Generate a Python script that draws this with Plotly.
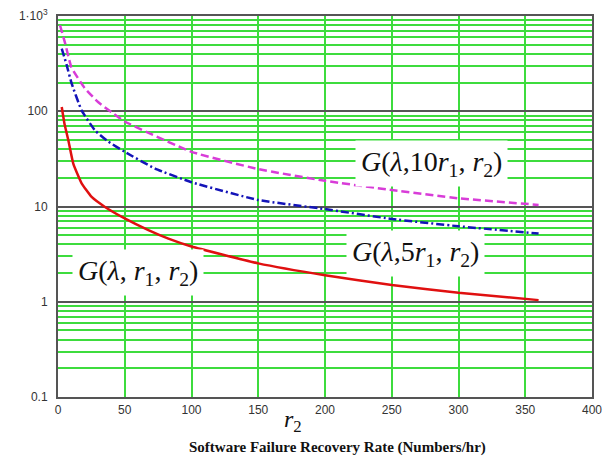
import plotly.graph_objects as go

# ---- data ----
red_r2 = [2.8, 5, 7.7, 11.5, 17.7, 25.2, 35.2, 50, 67.7, 82.7, 100, 150, 200, 250, 300, 360]
red_G = [111, 72, 50, 28, 17.5, 12.6, 9.9, 7.5, 5.65, 4.6, 3.8, 2.53, 1.9, 1.5, 1.24, 1.04]

blue_r2 = [2.8, 6.5, 10.2, 17.7, 27.7, 37.7, 50, 72.7, 100, 150, 200, 250, 300, 360]
blue_G = [455, 305, 196, 102, 63, 48, 37.5, 25, 18, 11.7, 9.4, 7.4, 6.2, 5.2]

mag_r2 = [1.5, 5.3, 10, 20, 30, 40, 50, 100, 150, 200, 250, 300, 360]
mag_G = [800, 520, 290, 175, 125, 98, 78, 37.5, 24.7, 18.6, 14.9, 12.2, 10.4]

x_ticks = [0, 50, 100, 150, 200, 250, 300, 350, 400]
y_ticks = [0.1, 1, 10, 100, 1000]
y_ticktext = ["0.1", "1", "10", "100", "1·10<sup>3</sup>"]
y_minor = [k * 10 ** e for e in (-1, 0, 1, 2) for k in range(2, 10)]

GREEN = "#3ddc3d"
DARK = "#555555"
SERIF = "Liberation Serif, Times New Roman, serif"
SANS = "Liberation Sans, Arial, sans-serif"

fig = go.Figure()
fig.add_trace(go.Scatter(x=mag_r2, y=mag_G, mode="lines",
                         line=dict(color="#d83cd8", width=2.5, dash="8px,4px", shape="spline", smoothing=0.4)))
fig.add_trace(go.Scatter(x=blue_r2, y=blue_G, mode="lines",
                         line=dict(color="#1414b8", width=2.5, dash="8px,3px,2px,3px", shape="spline", smoothing=0.4)))
fig.add_trace(go.Scatter(x=red_r2, y=red_G, mode="lines",
                         line=dict(color="#e01010", width=2.5, shape="spline", smoothing=0.4)))

fig.update_layout(
    width=604, height=468,
    margin=dict(l=58, r=12, t=16, b=71),
    paper_bgcolor="white", plot_bgcolor="white",
    showlegend=False,
    font=dict(family=SANS, size=12, color="#333"),
    xaxis=dict(range=[0, 400], tickvals=x_ticks, showgrid=True, gridcolor=GREEN, gridwidth=1.5,
               showline=True, linecolor=DARK, linewidth=2, mirror=True, ticks="", zeroline=False,
               automargin=False, ticklabelstandoff=1, ticklabeloverflow="allow",
               tickfont=dict(family=SANS, size=12, color="#333")),
    yaxis=dict(type="log", range=[-1, 3], tickvals=y_ticks, ticktext=y_ticktext,
               showgrid=True, gridcolor=DARK, gridwidth=2,
               minor=dict(tickvals=y_minor, showgrid=True, gridcolor=GREEN, gridwidth=1.5, ticks=""),
               showline=True, linecolor=DARK, linewidth=2, mirror=True, ticks="",
               automargin=False, ticklabelstandoff=6, ticklabeloverflow="allow",
               tickfont=dict(family=SANS, size=12, color="#333")),
)

lab_font = dict(family=SERIF, size=28, color="#111")
fig.add_annotation(x=280, y=1.455, xref="x", yref="y", showarrow=False, bgcolor="white", borderpad=5,
                   text="<i>G</i>(<i>λ</i>,10<i>r</i><sub>1</sub>, <i>r</i><sub>2</sub>)", font=lab_font)
fig.add_annotation(x=268, y=0.511, xref="x", yref="y", showarrow=False, bgcolor="white", borderpad=5,
                   text="<i>G</i>(<i>λ</i>,5<i>r</i><sub>1</sub>, <i>r</i><sub>2</sub>)", font=lab_font)
fig.add_annotation(x=60, y=0.312, xref="x", yref="y", showarrow=False, bgcolor="white", borderpad=5,
                   text="<i>G</i>(<i>λ</i>, <i>r</i><sub>1</sub>, <i>r</i><sub>2</sub>)", font=lab_font)

fig.add_annotation(x=0.44, y=-0.064, xref="paper", yref="paper", showarrow=False,
                   xanchor="center", yanchor="middle",
                   text="<i>r</i><sub>2</sub>", font=dict(family=SERIF, size=24, color="#111"))
fig.add_annotation(x=0.523, y=-0.133, xref="paper", yref="paper", showarrow=False,
                   xanchor="center", yanchor="middle",
                   text="<b>Software Failure Recovery Rate (Numbers/hr)</b>",
                   font=dict(family=SERIF, size=15, color="#111"))

fig.write_html("out.html", config={"displayModeBar": False},
               post_script="document.body.style.margin='0';document.body.style.overflow='hidden';")
